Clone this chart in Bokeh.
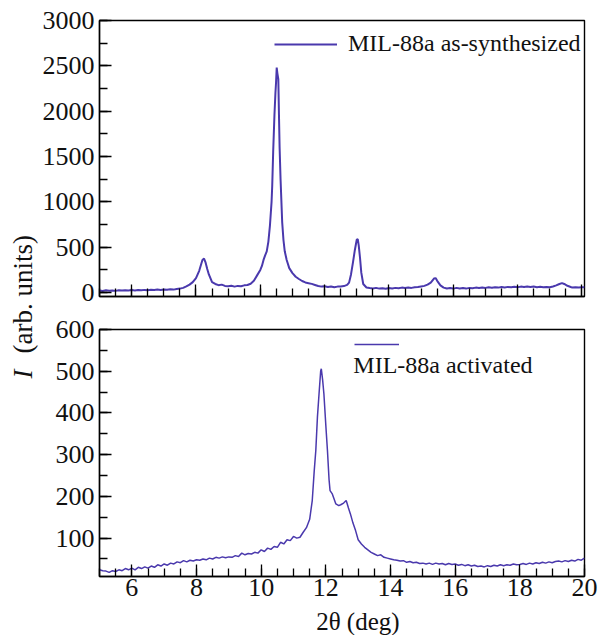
import numpy as np
from bokeh.plotting import figure
from bokeh.models import (Range1d, SingleIntervalTicker, Label, Legend, LegendItem,
                          ColumnDataSource, CustomLabelingPolicy)
from bokeh.layouts import row, column
from bokeh.embed import file_html
from bokeh.resources import INLINE

# ---------------- data ----------------
two_theta_as = [5.0, 5.1, 5.2, 5.3, 5.4, 5.5, 5.6, 5.7, 5.8, 5.9, 6.0, 6.1, 6.2, 6.3, 6.4, 6.5,
                6.6, 6.7, 6.8, 6.9, 7.0, 7.1, 7.2, 7.3, 7.4, 7.5, 7.6, 7.7, 7.8, 7.9, 8.0, 8.1,
                8.2, 8.25, 8.3, 8.35, 8.4, 8.5, 8.6, 8.7, 8.8, 8.9, 9.0, 9.1, 9.2, 9.3, 9.4,
                9.5, 9.6, 9.7, 9.8, 9.9, 10.0, 10.05, 10.1, 10.15, 10.2, 10.25, 10.3, 10.35,
                10.37, 10.4, 10.44, 10.47, 10.49, 10.51, 10.53, 10.56, 10.58, 10.6, 10.63,
                10.68, 10.72, 10.76, 10.82, 10.9, 11.0, 11.1, 11.2, 11.3, 11.4, 11.5, 11.6,
                11.7, 11.8, 11.9, 12.0, 12.1, 12.2, 12.3, 12.4, 12.5, 12.6, 12.7, 12.76, 12.82,
                12.88, 12.94, 13.0, 13.03, 13.06, 13.1, 13.14, 13.2, 13.3, 13.4, 13.5, 13.6,
                13.7, 13.8, 13.9, 14.0, 14.1, 14.2, 14.3, 14.4, 14.5, 14.6, 14.7, 14.8, 14.9,
                15.0, 15.1, 15.2, 15.3, 15.4, 15.45, 15.5, 15.6, 15.7, 15.8, 15.9, 16.0, 16.1,
                16.2, 16.3, 16.4, 16.5, 16.6, 16.7, 16.8, 16.9, 17.0, 17.1, 17.2, 17.3, 17.4,
                17.5, 17.6, 17.7, 17.8, 17.9, 18.0, 18.1, 18.2, 18.3, 18.4, 18.5, 18.6, 18.7,
                18.8, 18.9, 19.0, 19.1, 19.2, 19.3, 19.38, 19.45, 19.55, 19.65, 19.7, 19.8,
                19.9, 20.0, 20.08]
intensity_as = [22, 18, 25, 20, 24, 19, 26, 22, 27, 23, 28, 24, 29, 25, 30, 27,
                31, 28, 33, 29, 34, 31, 36, 33, 40, 44, 52, 68, 88, 115, 160, 240,
                360, 375, 330, 260, 200, 115, 95, 82, 88, 74, 70, 76, 66, 74, 70,
                80, 84, 98, 130, 190, 250, 294, 360, 410, 455, 560, 742, 1000,
                1172, 1550, 1960, 2200, 2319, 2480, 2420, 2354, 1960, 1600, 1247,
                777, 580, 455, 360, 270, 215, 175, 150, 128, 112, 104, 96,
                84, 72, 66, 70, 62, 68, 60, 66, 68, 72, 85, 110, 200,
                330, 470, 585, 590, 520, 384, 220, 95, 56, 50, 46, 52,
                44, 48, 42, 50, 45, 52, 47, 55, 50, 56, 52, 58, 62,
                68, 74, 88, 110, 155, 160, 130, 80, 55, 45, 50, 44, 52,
                46, 50, 44, 52, 48, 55, 50, 56, 52, 58, 54, 60, 55,
                62, 57, 63, 58, 64, 60, 66, 62, 68, 63, 67, 60, 64,
                58, 62, 60, 68, 80, 95, 104, 95, 75, 62, 56, 60,
                55, 60, 58]

two_theta_act = [5.0, 5.1, 5.2, 5.3, 5.4, 5.5, 5.6, 5.7, 5.8, 5.9, 6.0, 6.1, 6.2, 6.3, 6.4, 6.5,
                 6.6, 6.7, 6.8, 6.9, 7.0, 7.1, 7.2, 7.3, 7.4, 7.5, 7.6, 7.7, 7.8, 7.9, 8.0, 8.1,
                 8.2, 8.3, 8.4, 8.5, 8.6, 8.7, 8.8, 8.9, 9.0, 9.1, 9.2, 9.3, 9.4, 9.5, 9.6,
                 9.7, 9.8, 9.9, 10.0, 10.1, 10.2, 10.3, 10.4, 10.5, 10.6, 10.7, 10.8, 10.9,
                 11.0, 11.1, 11.2, 11.3, 11.4, 11.5, 11.58, 11.64, 11.69, 11.74, 11.79, 11.84,
                 11.86, 11.9, 11.94, 12.0, 12.05, 12.1, 12.13, 12.2, 12.25, 12.31, 12.4, 12.46,
                 12.55, 12.63, 12.7, 12.76, 12.84, 12.92, 13.0, 13.1, 13.2, 13.3, 13.4, 13.5,
                 13.6, 13.7, 13.8, 13.9, 14.0, 14.1, 14.2, 14.3, 14.4, 14.5, 14.6, 14.7, 14.8,
                 14.9, 15.0, 15.1, 15.2, 15.3, 15.4, 15.5, 15.6, 15.7, 15.8, 15.9, 16.0, 16.1,
                 16.2, 16.3, 16.4, 16.5, 16.6, 16.7, 16.8, 16.9, 17.0, 17.1, 17.2, 17.3, 17.4,
                 17.5, 17.6, 17.7, 17.8, 17.9, 18.0, 18.1, 18.2, 18.3, 18.4, 18.5, 18.6, 18.7,
                 18.8, 18.9, 19.0, 19.1, 19.2, 19.3, 19.4, 19.5, 19.6, 19.7, 19.8, 19.9, 20.0]
intensity_act = [24, 22, 21, 18, 22, 20, 24, 22, 27, 24, 28, 24, 30, 27, 31, 28,
                 33, 30, 36, 33, 38, 35, 40, 38, 43, 41, 46, 43, 47, 45, 48, 47,
                 50, 48, 52, 50, 54, 52, 55, 53, 55, 54, 58, 56, 64, 60, 63,
                 62, 66, 64, 72, 68, 76, 73, 80, 78, 90, 86, 96, 94,
                 104, 100, 102, 114, 125, 145, 190, 260, 310, 390, 446, 500,
                 506, 480, 446, 370, 310, 240, 214, 206, 195, 182, 178, 180,
                 184, 190, 172, 158, 136, 118, 96, 86, 78, 72, 66, 62,
                 58, 60, 54, 52, 50, 48, 47, 45, 46, 42, 44, 41, 42,
                 39, 40, 38, 40, 37, 40, 38, 39, 36, 39, 37, 38, 35,
                 37, 34, 36, 33, 35, 32, 33, 31, 34, 32, 35, 33, 36,
                 34, 36, 35, 38, 36, 37, 39, 37, 40, 38, 41, 39, 42,
                 40, 43, 41, 44, 45, 43, 46, 44, 47, 45, 49, 47, 52]

label_as = "MIL-88a as-synthesized"
label_act = "MIL-88a activated"
x_title = "2θ (deg)"
y_title_symbol = "I"
y_title_rest = "(arb. units)"

FONT = "Liberation Serif"
LINE_COLOR = "#4a39ad"
TICK_FS = "26px"
TEXT_COLOR = "#111111"


def style_axes(p, y_interval):
    p.grid.visible = False
    p.outline_line_color = "black"
    p.outline_line_width = 1.4
    p.xaxis.ticker = SingleIntervalTicker(interval=2, num_minor_ticks=4)
    p.yaxis.ticker = SingleIntervalTicker(interval=y_interval, num_minor_ticks=2)
    for ax in (p.xaxis[0], p.yaxis[0]):
        ax.axis_line_color = "black"
        ax.axis_line_width = 1.4
        ax.major_tick_in = 12
        ax.major_tick_out = 0
        ax.minor_tick_in = 8
        ax.minor_tick_out = 0
        ax.major_tick_line_color = "black"
        ax.minor_tick_line_color = "black"
        ax.major_tick_line_width = 1.3
        ax.minor_tick_line_width = 1.3
        ax.major_label_text_font = FONT
        ax.major_label_text_font_size = TICK_FS
        ax.major_label_text_color = TEXT_COLOR
    p.yaxis.major_label_standoff = 5
    p.xaxis.major_label_standoff = 2
    p.background_fill_color = "white"
    p.border_fill_color = "white"


# ---------------- top panel ----------------
top = figure(width=565, height=316, output_backend="svg", toolbar_location=None,
             x_range=Range1d(5.0, 20.08), y_range=Range1d(-43, 3000),
             min_border_left=58, min_border_right=16, min_border_top=20, min_border_bottom=13)
style_axes(top, 500)
top.xaxis.major_label_policy = CustomLabelingPolicy(
    code="for (const i of indices) indices.unset(i); return indices")
top.xaxis.major_label_standoff = 0
src_as = ColumnDataSource(dict(x=two_theta_as, y=intensity_as))
r_as = top.line("x", "y", source=src_as, line_color=LINE_COLOR, line_width=2.0)
leg_top = Legend(items=[LegendItem(label=label_as, renderers=[r_as])],
                 location=(175, 239), glyph_width=63, glyph_height=20, label_standoff=11,
                 padding=0, margin=0, spacing=0, border_line_color=None,
                 background_fill_alpha=0, label_text_font=FONT, label_text_font_size="24px",
                 label_text_color=TEXT_COLOR, label_height=20)
top.add_layout(leg_top)

# ---------------- bottom panel ----------------
bot = figure(width=565, height=291, output_backend="svg", toolbar_location=None,
             x_range=Range1d(5.0, 20.0), y_range=Range1d(8, 600),
             min_border_left=58, min_border_right=20, min_border_top=13, min_border_bottom=31)
style_axes(bot, 100)
src_act = ColumnDataSource(dict(x=two_theta_act, y=intensity_act))
r_act = bot.line("x", "y", source=src_act, line_color=LINE_COLOR, line_width=1.5)
leg_bot = Legend(items=[LegendItem(label=" ", renderers=[r_act])],
                 location=(255, 230), glyph_width=45, glyph_height=4, label_standoff=0,
                 padding=0, margin=0, spacing=0, border_line_color=None,
                 background_fill_alpha=0, label_text_font_size="1px", label_height=4,
                 label_width=1)
bot.add_layout(leg_bot)
bot.add_layout(Label(x=12.85, y=515, text=label_act, text_font=FONT,
                     text_font_size="24px", text_color=TEXT_COLOR,
                     text_align="left", text_baseline="alphabetic"))

# ---------------- x-title strip ----------------
xstrip = figure(width=565, height=28, output_backend="svg", toolbar_location=None,
                x_range=Range1d(0, 565), y_range=Range1d(0, 28),
                x_axis_type=None, y_axis_type=None, min_border=0)
xstrip.outline_line_color = None
xstrip.grid.visible = False
xstrip.add_layout(Label(x=301, y=14, text=x_title, text_font=FONT,
                        text_font_size="25px", text_color=TEXT_COLOR,
                        text_align="center", text_baseline="middle"))

# ---------------- y-title strip ----------------
H = 635
lab = figure(width=39, height=H, output_backend="svg", toolbar_location=None,
             x_range=Range1d(0, 39), y_range=Range1d(0, H),
             x_axis_type=None, y_axis_type=None, min_border=0)
lab.outline_line_color = None
lab.grid.visible = False
lab.add_layout(Label(x=22, y=H - 378, angle=np.pi / 2, text=y_title_symbol,
                     text_font=FONT, text_font_style="italic", text_font_size="27px",
                     text_color=TEXT_COLOR, text_align="left", text_baseline="middle"))
lab.add_layout(Label(x=22, y=H - 353, angle=np.pi / 2, text=y_title_rest,
                     text_font=FONT, text_font_size="27px",
                     text_color=TEXT_COLOR, text_align="left", text_baseline="middle"))

layout = row(lab, column(top, bot, xstrip))
open("out.html", "w").write(file_html(layout, INLINE))
